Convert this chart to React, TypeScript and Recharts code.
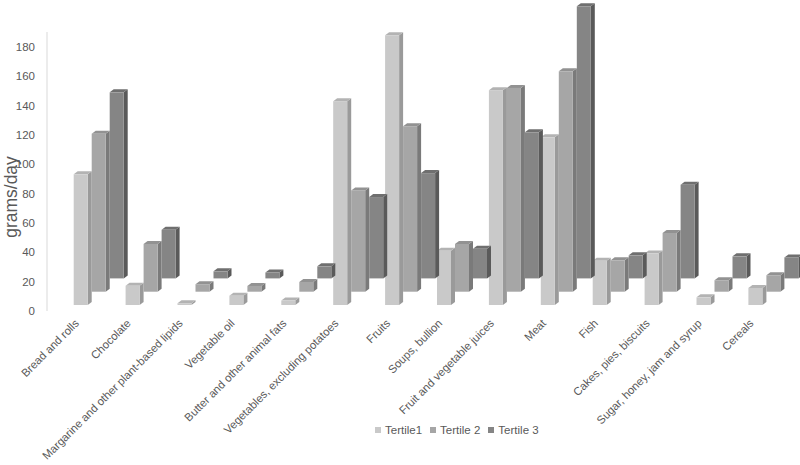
import React from 'react';
import { BarChart, Bar, XAxis, YAxis, Legend } from 'recharts';

const categories = [
  'Bread and rolls',
  'Chocolate',
  'Margarine and other plant-based lipids',
  'Vegetable oil',
  'Butter and other animal fats',
  'Vegetables, excluding potatoes',
  'Fruits',
  'Soups, bullion',
  'Fruit and vegetable juices',
  'Meat',
  'Fish',
  'Cakes, pies, biscuits',
  'Sugar, honey, jam and syrup',
  'Cereals',
];
const tertile1 = [89, 13.1, 1.2, 6.3, 3, 138.8, 183.7, 37, 146.3, 114.2, 30.2, 35, 5.2, 11.6];
const tertile2 = [107.6, 32.5, 5.1, 3.9, 6.6, 69, 112.7, 32.5, 138.8, 150.1, 21.4, 40, 7.8, 11.2];
const tertile3 = [126.7, 33.1, 4.8, 4, 8.2, 55.4, 71.7, 20.2, 99.5, 185.3, 15.7, 63.8, 15, 14.3];
const seriesNames = ['Tertile1', 'Tertile 2', 'Tertile 3'];
const yTicks = [0, 20, 40, 60, 80, 100, 120, 140, 160, 180];

const data = categories.map((name, i) => ({
  name,
  t1: tertile1[i],
  t2: tertile2[i],
  t3: tertile3[i],
}));

const FONT = '"Liberation Sans", Arial, sans-serif';
const TEXT = '#595959';
const FRONT = ['#c9c9c9', '#a6a6a6', '#858585'];
const TOP = ['#b3b3b3', '#929292', '#6f6f6f'];
const SIDE = ['#9a9a9a', '#7a7a7a', '#5a5a5a'];
const LIFT = [6, 19.3, 32.6];
const DX = 4;
const DY = 3;

const makeShape = (s: number) => (props: any) => {
  const { x, y, width, height } = props;
  if (x == null || y == null) return <g />;
  const h = Math.max(height || 0, 0);
  const top = y - LIFT[s];
  const bottom = top + h;
  const l = x;
  const r = x + width;
  return (
    <g>
      <polygon
        points={`${r},${top} ${r + DX},${top - DY} ${r + DX},${bottom - DY} ${r},${bottom}`}
        fill={SIDE[s]}
      />
      <polygon
        points={`${l},${top} ${l + DX},${top - DY} ${r + DX},${top - DY} ${r},${top}`}
        fill={TOP[s]}
      />
      <rect x={l} y={top} width={width} height={h} fill={FRONT[s]} />
    </g>
  );
};

const CatTick = (props: any) => {
  const { x, y, payload } = props;
  const ax = x - 19;
  const ay = y + 13;
  return (
    <text
      x={ax}
      y={ay}
      transform={`rotate(-45 ${ax} ${ay})`}
      textAnchor="end"
      fill={TEXT}
      fontSize={11.3}
      fontFamily={FONT}
    >
      {payload.value}
    </text>
  );
};

const YLabel = () => (
  <text
    x={17}
    y={197}
    transform="rotate(-90 17 197)"
    textAnchor="middle"
    fill={TEXT}
    fontSize={17.5}
    fontFamily={FONT}
  >
    grams/day
  </text>
);

const renderLegend = () => (
  <div
    style={{
      display: 'flex',
      alignItems: 'center',
      fontFamily: FONT,
      fontSize: 11.5,
      color: TEXT,
      lineHeight: '14px',
    }}
  >
    {seriesNames.map((n, i) => (
      <div key={n} style={{ display: 'flex', alignItems: 'center', marginRight: 8 }}>
        <span
          style={{
            display: 'inline-block',
            width: 6,
            height: 6,
            background: FRONT[i],
            marginRight: 4,
          }}
        />
        <span>{n}</span>
      </div>
    ))}
  </div>
);

export default function App() {
  return (
    <div style={{ position: 'absolute', left: 0, top: 0, width: 800, height: 465, background: '#fff' }}>
      <BarChart
        width={800}
        height={465}
        data={data}
        margin={{ top: 32, right: 0, left: 0, bottom: 0 }}
        barSize={14}
        barGap={4}
        style={{ fontFamily: FONT }}
      >
        <XAxis
          dataKey="name"
          type="category"
          interval={0}
          height={154}
          axisLine={false}
          tickLine={false}
          tickSize={0}
          tickMargin={0}
          padding={{ left: 25.7, right: 0.7 }}
          tick={<CatTick />}
        />
        <YAxis
          type="number"
          domain={[0, 190]}
          ticks={yTicks}
          width={47}
          axisLine={{ stroke: '#d9d9d9' }}
          tickLine={false}
          tickSize={0}
          tickMargin={12}
          tick={{ fill: TEXT, fontSize: 11.5, fontFamily: FONT }}
          label={<YLabel />}
        />
        <Legend
          layout="horizontal"
          verticalAlign="middle"
          align="center"
          content={renderLegend}
          wrapperStyle={{ top: 423, left: 375, width: 220 }}
        />
        <Bar dataKey="t1" name={seriesNames[0]} isAnimationActive={false} shape={makeShape(0)} />
        <Bar dataKey="t2" name={seriesNames[1]} isAnimationActive={false} shape={makeShape(1)} />
        <Bar dataKey="t3" name={seriesNames[2]} isAnimationActive={false} shape={makeShape(2)} />
      </BarChart>
    </div>
  );
}
